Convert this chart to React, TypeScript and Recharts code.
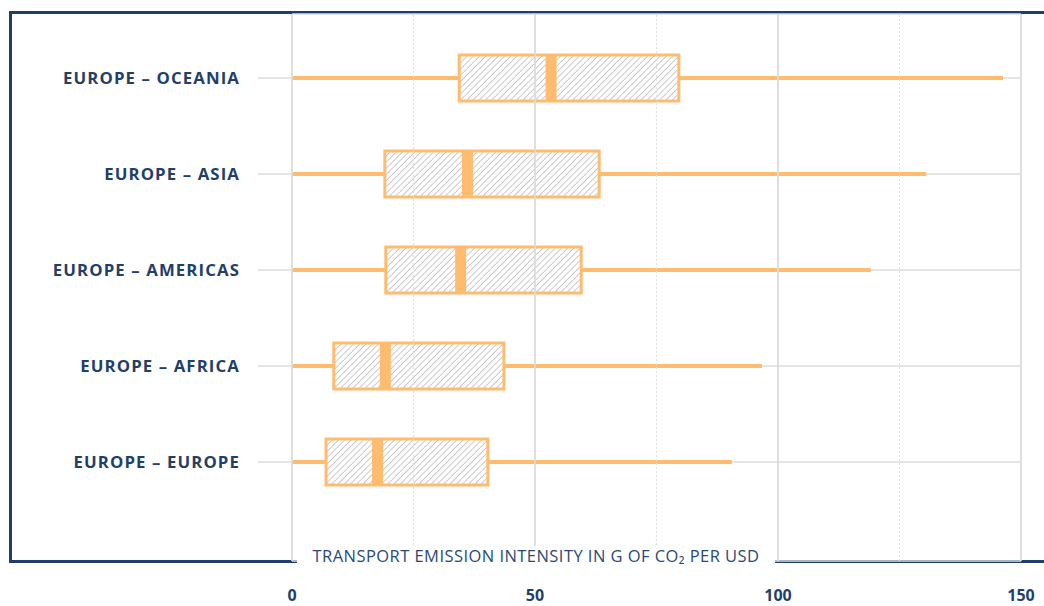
import {
  ComposedChart,
  Bar,
  XAxis,
  YAxis,
  CartesianGrid,
  ReferenceLine,
} from "recharts";

const categories = [
  "EUROPE – OCEANIA",
  "EUROPE – ASIA",
  "EUROPE – AMERICAS",
  "EUROPE – AFRICA",
  "EUROPE – EUROPE",
];
const mins = [0, 0, 0, 0, 0];
const q1s = [34.4, 19.1, 19.3, 8.6, 7.0];
const medians = [53.3, 36.1, 34.7, 19.2, 17.6];
const q3s = [79.6, 63.2, 59.5, 43.6, 40.3];
const maxs = [146.3, 130.5, 119.1, 96.7, 90.5];

const xTicks = [0, 50, 100, 150];
const solidGrid = [0, 50, 100, 150];
const dottedGrid = [25, 75, 125];

const NAVY = "#1f3e6b";
const ORANGE = "#ffbb6e";
const GRID = "#dcdcdc";

const data = categories.map((name, i) => ({
  name,
  min: mins[i],
  q1: q1s[i],
  median: medians[i],
  q3: q3s[i],
  max: maxs[i],
  base: mins[i],
  lowWhisker: q1s[i] - mins[i],
  box: q3s[i] - q1s[i],
  highWhisker: maxs[i] - q3s[i],
}));

const Whisker = (props: any) => {
  const { x, y, width, height } = props;
  if (!width) return null;
  const cy = y + height / 2;
  return <line x1={x} x2={x + width} y1={cy} y2={cy} stroke={ORANGE} strokeWidth={4} />;
};

const BoxShape = (props: any) => {
  const { x, y, width, height, payload, index } = props;
  const mx = x + (width * (payload.median - payload.q1)) / (payload.q3 - payload.q1);
  const id = "hatch-" + index;
  return (
    <g>
      <defs>
        <pattern id={id} patternUnits="userSpaceOnUse" width={4.4} height={4.4} patternTransform="rotate(45)">
          <line x1={0} y1={0} x2={0} y2={4.4} stroke="#c4c4c4" strokeWidth={1.8} />
        </pattern>
      </defs>
      <rect x={x} y={y} width={width} height={height} fill="#fff" />
      <rect x={x} y={y} width={width} height={height} fill={`url(#${id})`} stroke={ORANGE} strokeWidth={3} />
      <rect x={mx - 5.5} y={y} width={11} height={height} fill={ORANGE} />
    </g>
  );
};

const CategoryTick = (props: any) => {
  const { x, y, payload } = props;
  return (
    <text
      x={x}
      y={y}
      dy={6}
      textAnchor="end"
      fill="#233f69"
      fontFamily="'Open Sans', sans-serif"
      fontWeight={700}
      fontSize={16.8}
      letterSpacing={1.1}
    >
      {payload.value}
    </text>
  );
};

const ValueTick = (props: any) => {
  const { x, y, payload } = props;
  return (
    <text
      x={x}
      y={y}
      dy={10}
      textAnchor="middle"
      fill="#233f69"
      fontFamily="'Open Sans', sans-serif"
      fontWeight={700}
      fontSize={16}
    >
      {payload.value}
    </text>
  );
};

export default function App() {
  return (
    <div style={{ position: "relative", width: 1044, height: 606, background: "#fff" }}>
      <style>{`body{margin:0}`}</style>
      <div
        style={{
          position: "absolute",
          left: 9,
          top: 11,
          width: 1035,
          height: 552,
          boxSizing: "border-box",
          borderTop: `3px solid ${NAVY}`,
          borderLeft: `3px solid ${NAVY}`,
          borderBottom: `3px solid ${NAVY}`,
        }}
      />
      <div style={{ position: "absolute", left: 0, top: 0 }}>
        <ComposedChart
          width={1044}
          height={606}
          data={data}
          layout="vertical"
          margin={{ top: 14, right: 23, bottom: 0, left: 0 }}
        >
          <CartesianGrid horizontal={true} vertical={false} stroke={GRID} strokeWidth={1.5} />
          {dottedGrid.map((v) => (
            <ReferenceLine key={"d" + v} x={v} stroke="#e0e0e0" strokeWidth={1.2} strokeDasharray="2 2" />
          ))}
          {solidGrid.map((v) => (
            <ReferenceLine key={"s" + v} x={v} stroke={GRID} strokeWidth={1.8} />
          ))}
          <XAxis
            type="number"
            domain={[0, 150]}
            ticks={xTicks}
            axisLine={false}
            tickLine={false}
            height={45}
            tickMargin={24}
            tick={<ValueTick />}
            interval={0}
          />
          <YAxis
            type="category"
            dataKey="name"
            width={292}
            axisLine={false}
            tickLine={{ stroke: GRID, strokeWidth: 1.5 }}
            tickSize={34}
            tickMargin={18}
            tick={<CategoryTick />}
            padding={{ top: 16, bottom: 51 }}
            interval={0}
          />
          <Bar dataKey="base" stackId="a" fill="transparent" isAnimationActive={false} barSize={46} />
          <Bar dataKey="lowWhisker" stackId="a" shape={<Whisker />} isAnimationActive={false} barSize={46} />
          <Bar dataKey="box" stackId="a" shape={<BoxShape />} isAnimationActive={false} barSize={46} />
          <Bar dataKey="highWhisker" stackId="a" shape={<Whisker />} isAnimationActive={false} barSize={46} />
        </ComposedChart>
      </div>
      <div
        style={{
          position: "absolute",
          left: 297,
          top: 546,
          width: 478,
          height: 26,
          background: "#fff",
          color: "#2b4a73",
          fontFamily: "'Open Sans', sans-serif",
          fontSize: 16.5,
          lineHeight: "20px",
          textAlign: "center",
          letterSpacing: 0.45,
        }}
      >
        TRANSPORT EMISSION INTENSITY IN G OF CO₂ PER USD
      </div>
    </div>
  );
}
